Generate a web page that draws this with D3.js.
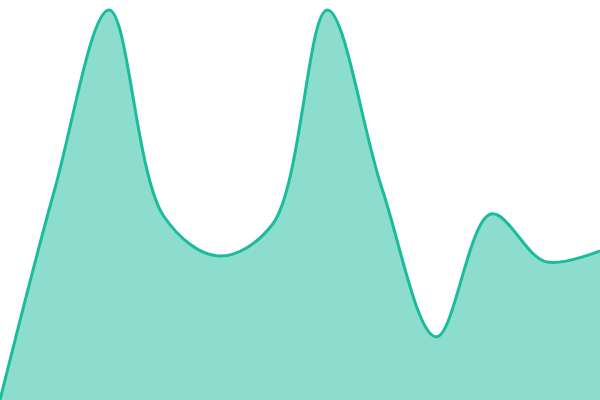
<!DOCTYPE html>
<html>
<head>
<meta charset="utf-8">
<script src="https://cdn.jsdelivr.net/npm/d3@7"></script>
<style>
	body { margin: 0; background: #fff; }
	svg { display: block; }
</style>
</head>
<body>
<svg id="chart"></svg>
<script>
// one value per step
let steps = [0, 1, 2, 3, 4, 5, 6, 7, 8, 9, 10, 11];
let values = [0, 52.5, 97.5, 46, 36, 44, 97.5, 53, 15.8, 46.5, 34.6, 37.3];

let width = 600;
let height = 400;

let x = d3.scaleLinear()
	.domain([0, 11])
	.range([0, width]);

let y = d3.scaleLinear()
	.domain([0, 100])
	.range([height, 0]);

let data = steps.map((s, i) => ({ step: s, value: values[i] }));

let svg = d3.select('#chart')
	.attr('width', width)
	.attr('height', height);

let area = d3.area()
	.x(d => x(d.step))
	.y0(height)
	.y1(d => y(d.value))
	.curve(d3.curveCatmullRom);

let line = d3.line()
	.x(d => x(d.step))
	.y(d => y(d.value))
	.curve(d3.curveCatmullRom);

svg.append('path')
	.datum(data)
	.attr('d', area)
	.attr('fill', '#1abc9c')
	.attr('fill-opacity', 0.5);

svg.append('path')
	.datum(data)
	.attr('d', line)
	.attr('fill', 'none')
	.attr('stroke', '#1abc9c')
	.attr('stroke-width', 3);
</script>
</body>
</html>
